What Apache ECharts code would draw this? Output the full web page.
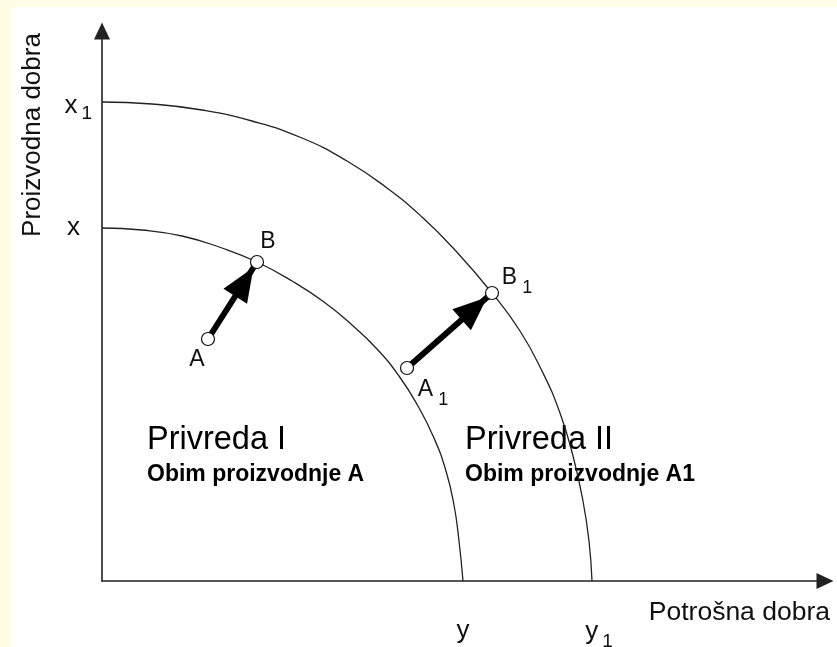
<!DOCTYPE html>
<html>
<head>
<meta charset="utf-8">
<script src="https://cdn.jsdelivr.net/npm/echarts@6/dist/echarts.min.js"></script>
<style>
  html, body { margin: 0; padding: 0; background: #fffde4; }
  #chart { position: absolute; left: 12px; top: 7px; width: 825px; height: 640px; background: #fff; }
</style>
</head>
<body>
<div id="chart"></div>
<script>
// krive proizvodnih mogucnosti, ocitane sa slike (x = potrosna dobra, y = proizvodna dobra)
var curveI  = [[0,353],[40,351],[80,345],[120,333],[155,319],[190,300],[222,279],[250,256],[275,232],
               [297,205],[316,175],[332,143],[344,110],[352,76],[357,40],[361,0]];
var curveII = [[0,479],[50,477],[100,471],[150,460],[200,443],[245,420],[285,393],[320,364],[352,332],
               [390,288],[418,250],[440,210],[458,168],[471,125],[481,80],[487,40],[490,0]];

var pointNames = ['A', 'B', 'A1', 'B1'];
var pointX = [106, 155, 305, 390];
var pointY = [242, 319, 213, 288];
var arrows = [['A', 'B'], ['A1', 'B1']];

var xTickLabels = ['y', 'y1'];
var yTickLabels = ['x', 'x1'];
var xMax = 723, yMax = 550;

var xTickValues = [curveI[curveI.length - 1][0], curveII[curveII.length - 1][0]];
var yTickValues = [curveI[0][1], curveII[0][1]];

var FONT = "'Liberation Sans', Arial, sans-serif";

// slovo + indeks
function sub(t, mainKey, subKey, plainKey) {
    if (t.length > 1) return '{' + mainKey + '|' + t[0] + '}{' + subKey + '|' + t.slice(1) + '}';
    return '{' + plainKey + '|' + t + '}';
}
function txt(size, pad) {
    return { fontSize: size, fontFamily: FONT, color: '#111', padding: pad || 0 };
}

var labelOffset = { A: [-11, 21], B: [11, -20], A1: [26, 22], B1: [25, -15] };

var myChart = echarts.init(document.getElementById('chart'));

var option = {
    animation: false,
    grid: { left: 90, top: 24, right: 12, bottom: 66, containLabel: false, outerBoundsMode: 'none' },
    xAxis: {
        type: 'value', min: 0, max: xMax,
        splitLine: { show: false },
        axisTick: { show: false },
        axisLine: { show: true, onZero: false, symbol: ['none', 'triangle'], symbolSize: [16, 17],
                    lineStyle: { color: '#222', width: 1.6 } },
        axisLabel: {
            customValues: xTickValues,
            margin: 37,
            formatter: function (v) { return sub(xTickLabels[xTickValues.indexOf(v)], 'm', 's', 'p'); },
            rich: { p: txt(26), m: txt(26, [0, 0, 6, 14]), s: txt(19, [14, 0, 0, 4]) }
        }
    },
    yAxis: {
        type: 'value', min: 0, max: yMax,
        splitLine: { show: false },
        axisTick: { show: false },
        axisLine: { show: true, onZero: false, symbol: ['none', 'triangle'], symbolSize: [16, 17],
                    lineStyle: { color: '#222', width: 1.6 } },
        axisLabel: {
            customValues: yTickValues,
            margin: 10,
            formatter: function (v) { return sub(yTickLabels[yTickValues.indexOf(v)], 'm', 's', 'p'); },
            rich: { p: txt(26, [0, 12, 0, 0]), m: txt(26, [8, 0, 0, 0]), s: txt(19, [24, 0, 0, 4]) }
        }
    },
    graphic: [
        { type: 'text', x: 21, y: 128, rotation: Math.PI / 2,
          style: { text: 'Proizvodna dobra', font: "26px " + FONT, fill: '#111', align: 'center', verticalAlign: 'middle' } },
        { type: 'text', x: 818, y: 606,
          style: { text: 'Potrošna dobra', font: "26.5px " + FONT, fill: '#111', align: 'right', verticalAlign: 'middle' } },
        { type: 'text', x: 135, y: 433,
          style: { text: 'Privreda I', font: "32.5px " + FONT, fill: '#000', align: 'left', verticalAlign: 'middle' } },
        { type: 'text', x: 135, y: 468,
          style: { text: 'Obim proizvodnje A', font: "bold 23px " + FONT, fill: '#000', align: 'left', verticalAlign: 'middle' } },
        { type: 'text', x: 453, y: 433,
          style: { text: 'Privreda II', font: "32.5px " + FONT, fill: '#000', align: 'left', verticalAlign: 'middle' } },
        { type: 'text', x: 453, y: 468,
          style: { text: 'Obim proizvodnje A1', font: "bold 23px " + FONT, fill: '#000', align: 'left', verticalAlign: 'middle' } }
    ],
    series: [
        {
            name: 'Privreda I', type: 'line', data: curveI, smooth: 0.5,
            showSymbol: false, silent: true, z: 2,
            lineStyle: { color: '#222', width: 1.3 }
        },
        {
            name: 'Privreda II', type: 'line', data: curveII, smooth: 0.5,
            showSymbol: false, silent: true, z: 2,
            lineStyle: { color: '#222', width: 1.3 },
            markLine: {
                z: 1, silent: true, animation: false,
                symbol: ['none', 'triangle'],
                label: { show: false },
                emphasis: { disabled: true },
                lineStyle: { type: 'solid', color: '#000', width: 6, opacity: 1 },
                data: arrows.map(function (a) {
                    var i = pointNames.indexOf(a[0]), j = pointNames.indexOf(a[1]);
                    return [
                        { coord: [pointX[i], pointY[i]], symbolSize: 10 },
                        { coord: [pointX[j], pointY[j]], symbolSize: [28, 34], symbolOffset: [0, 23.5] }
                    ];
                })
            }
        },
        {
            name: 'tacke', type: 'scatter', z: 3, silent: true,
            symbol: 'circle', symbolSize: 13,
            itemStyle: { color: '#fff', borderColor: '#111', borderWidth: 1.2, opacity: 1 },
            data: pointNames.map(function (n, i) {
                return { name: n, value: [pointX[i], pointY[i]], label: { offset: labelOffset[n] } };
            }),
            label: {
                show: true, position: 'inside', color: '#111',
                formatter: function (p) { return sub(p.name, 'm', 's', 'm'); },
                rich: { m: txt(23), s: txt(18, [20, 0, 0, 5]) }
            }
        }
    ]
};

myChart.setOption(option, true);
</script>
</body>
</html>
